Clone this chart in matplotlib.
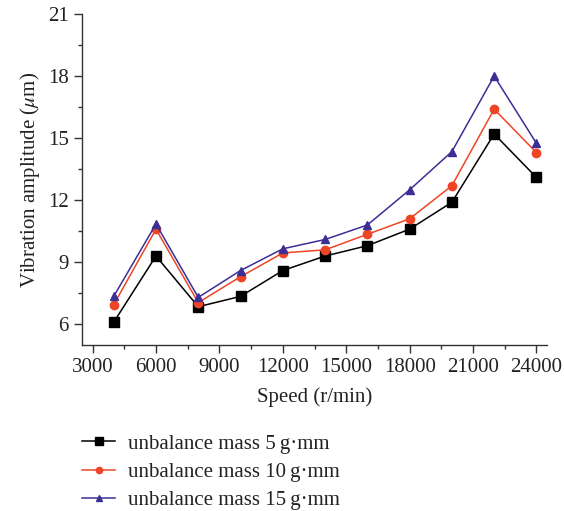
import numpy as np
import matplotlib
matplotlib.use('Agg')
import matplotlib.pyplot as plt
from matplotlib.ticker import MultipleLocator

plt.rcParams['font.family'] = ['Liberation Serif', 'DejaVu Serif']
plt.rcParams['mathtext.fontset'] = 'stix'

speed = [4000, 6000, 8000, 10000, 12000, 14000, 16000, 18000, 20000, 22000, 24000]
amp_5 = [6.1, 9.3, 6.85, 7.35, 8.6, 9.3, 9.8, 10.6, 11.9, 15.2, 13.1]
amp_10 = [6.95, 10.6, 7.05, 8.3, 9.45, 9.6, 10.35, 11.1, 12.7, 16.4, 14.3]
amp_15 = [7.35, 10.85, 7.3, 8.6, 9.65, 10.1, 10.8, 12.5, 14.35, 18.0, 14.75]
labels = ['unbalance mass 5\u2009g\u00b7mm',
          'unbalance mass 10\u2009g\u00b7mm',
          'unbalance mass 15\u2009g\u00b7mm']

fig = plt.figure(figsize=(5.64, 5.11), dpi=100)
ax = fig.add_axes([82/564, 1 - 345/511, (547-82)/564, (345-14)/511])

ax.plot(speed, amp_5, color='black', marker='s', ms=7, lw=1.1, label=labels[0])
ax.plot(speed, amp_10, color='#ee4527', marker='o', ms=6, lw=1.1, label=labels[1])
ax.plot(speed, amp_15, color='#3b2f96', marker='^', ms=6, lw=1.1, label=labels[2])

ax.set_xlim(2500, 24500)
ax.set_ylim(5, 21)
ax.xaxis.set_major_locator(MultipleLocator(3000))
ax.xaxis.set_minor_locator(MultipleLocator(1500))
ax.yaxis.set_major_locator(MultipleLocator(3))
ax.yaxis.set_minor_locator(MultipleLocator(1.5))
ax.spines['top'].set_visible(False)
ax.spines['right'].set_visible(False)
for s in ('left', 'bottom'):
    ax.spines[s].set_color('#333333')
    ax.spines[s].set_linewidth(1.0)
ax.tick_params(which='major', direction='out', length=6, width=1, labelsize=15, colors='#333333', labelcolor='#222222')
ax.tick_params(which='minor', direction='out', length=3, width=1, colors='#333333')

ax.set_xlabel('Speed (r/min)', fontsize=15, color='#222222', labelpad=7)
ax.set_ylabel(r'Vibration amplitude ($\mathit{\mu}$m)', fontsize=15, color='#222222', labelpad=4)

fig.legend(loc='upper left', bbox_to_anchor=(82/564, 1 - 434/511), frameon=False,
           fontsize=15, handlelength=1.6, handletextpad=0.6, labelspacing=0.42,
           borderpad=0, borderaxespad=0, labelcolor='#222222', markerscale=0.75)

fig.savefig('out.png', dpi=100)
